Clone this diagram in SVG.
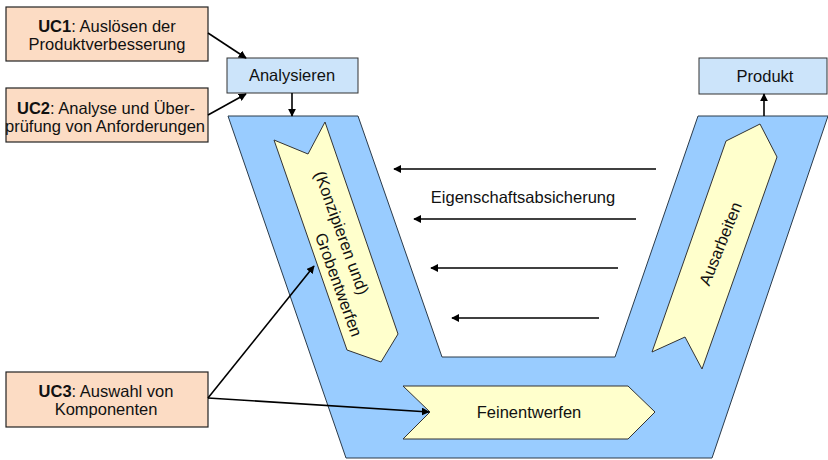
<svg xmlns="http://www.w3.org/2000/svg" width="828" height="460" viewBox="0 0 828 460">
<style>
text{font-family:"Liberation Sans",Arial,sans-serif;font-size:16.5px;fill:#111;text-anchor:middle}
.uc{fill:#FCDCC4;stroke:#222;stroke-width:1.2}
.st{fill:#CCE4FA;stroke:#333;stroke-width:1}
.v{fill:#99CCFF;stroke:#2A3A4A;stroke-width:1}
.chev{fill:#FFFFCC;stroke:#333;stroke-width:1}
.c{stroke:#000;stroke-width:1.6;fill:none;marker-end:url(#ah)}
b{font-weight:bold}
</style>
<defs>
<marker id="ah" viewBox="0 0 10 10" refX="9" refY="5" markerWidth="5" markerHeight="5" orient="auto" markerUnits="strokeWidth">
<path d="M0,0 L10,5 L0,10 z" fill="#000"/>
</marker>
</defs>
<rect width="828" height="460" fill="#fff"/>
<g id="vmodel">
<polygon class="v" points="228,116 358,116 442,357 615,357 698,116 828,116 712,458 346,458"/>
</g>
<g id="konzipieren">
<polygon class="chev" points="274,140 308,154 325,122 398,334 381,362 347,350"/>
<text transform="translate(341,233) rotate(70)" y="5">(Konzipieren und)</text>
<text transform="translate(338,285) rotate(70)" y="5">Grobentwerfen</text>
</g>
<g id="ausarbeiten">
<polygon class="chev" points="652,352 685,337 702,369 777,157 760,124 726,141"/>
<text transform="translate(721,244) rotate(-68)" y="5">Ausarbeiten</text>
</g>
<g id="feinentwerfen">
<polygon class="chev" points="403,386 628,386 655,412 628,439 403,439 430,412"/>
<text x="529" y="418">Feinentwerfen</text>
</g>
<g id="uc1">
<rect class="uc" x="6" y="7" width="202" height="54"/>
<text x="107" y="32"><tspan font-weight="bold">UC1</tspan>: Auslösen der</text>
<text x="107" y="50">Produktverbesserung</text>
</g>
<g id="uc2">
<rect class="uc" x="6" y="88" width="202" height="54"/>
<text x="106" y="114"><tspan font-weight="bold">UC2</tspan>: Analyse und Über-</text>
<text x="105" y="132">prüfung von Anforderungen</text>
</g>
<g id="uc3">
<rect class="uc" x="6" y="372" width="202" height="55"/>
<text x="106" y="397"><tspan font-weight="bold">UC3</tspan>: Auswahl von</text>
<text x="106" y="415">Komponenten</text>
</g>
<g id="analysieren">
<rect class="st" x="227" y="58" width="131" height="35"/>
<text x="292" y="81">Analysieren</text>
</g>
<g id="produkt">
<rect class="st" x="699" y="58" width="128" height="36"/>
<text x="765" y="82">Produkt</text>
</g>
<g id="label">
<text x="523" y="203">Eigenschaftsabsicherung</text>
</g>
<g id="connectors">
<line class="c" x1="208" y1="33" x2="246" y2="58"/>
<line class="c" x1="208" y1="115" x2="246" y2="94"/>
<line class="c" x1="292" y1="93" x2="292" y2="116"/>
<line class="c" x1="764" y1="116" x2="764" y2="94"/>
<line class="c" x1="208" y1="398" x2="314" y2="266"/>
<line class="c" x1="208" y1="398" x2="429" y2="412"/>
<line class="c" x1="656" y1="169" x2="394" y2="169"/>
<line class="c" x1="636" y1="219" x2="414" y2="219"/>
<line class="c" x1="618" y1="268" x2="431" y2="268"/>
<line class="c" x1="599" y1="318" x2="452" y2="318"/>
</g>
</svg>
